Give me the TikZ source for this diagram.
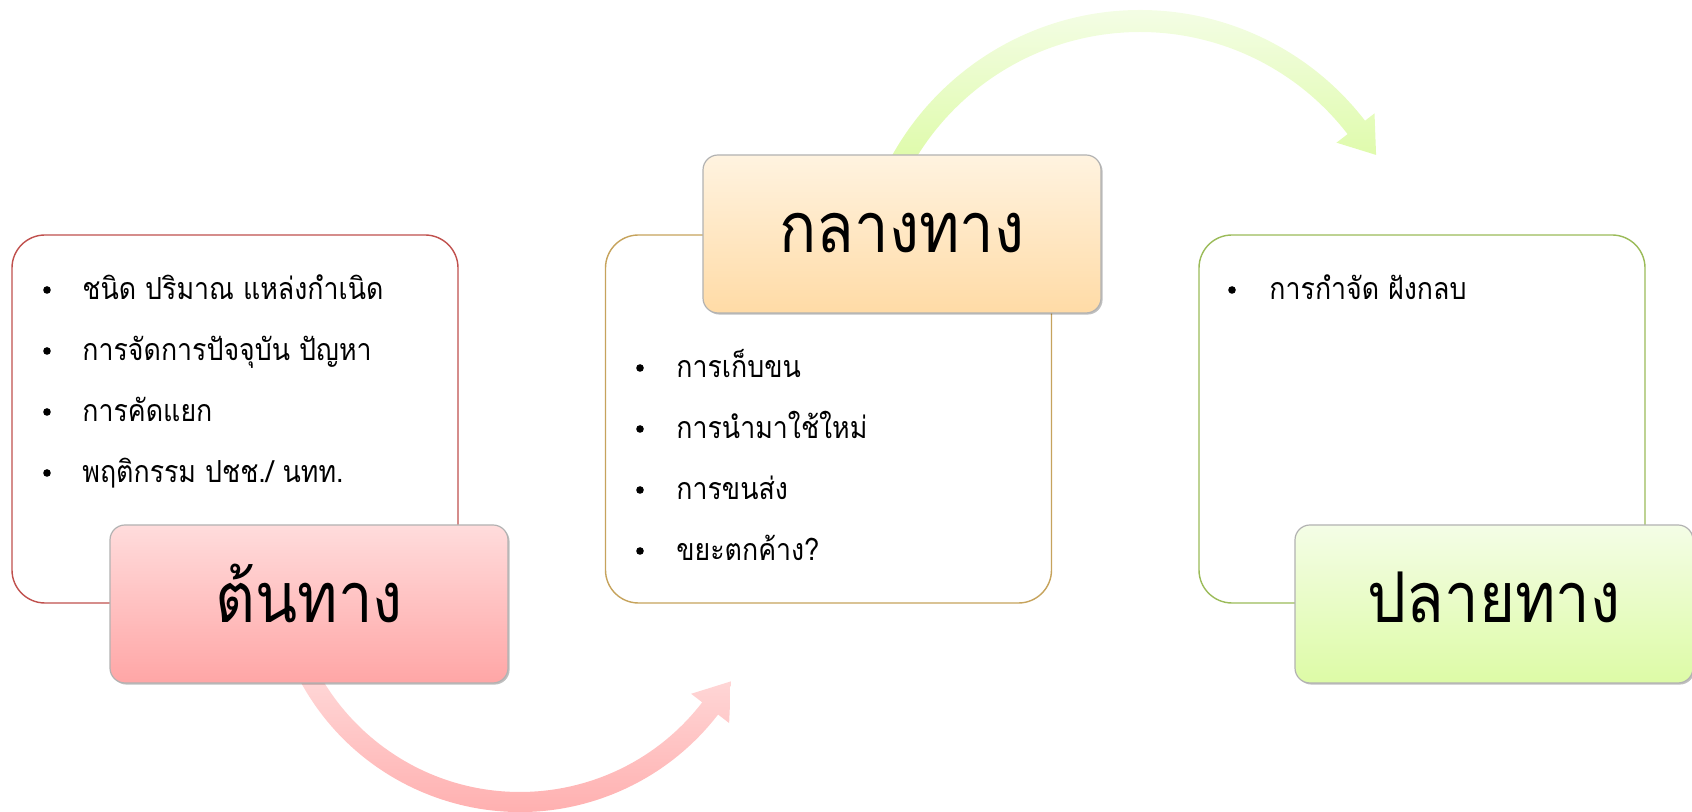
\documentclass[tikz,border=0pt]{standalone}
\usepackage{fontspec}
\usepackage{tikz}
\usetikzlibrary{shadows}
\newfontfamily\thaifont[Script=Thai, FakeStretch=0.88]{Loma}
\definecolor{tonline}{HTML}{C0504D}
\definecolor{klangline}{HTML}{C6A35C}
\definecolor{plailine}{HTML}{9BBB59}
\definecolor{tontop}{HTML}{FFDCDC}
\definecolor{tonbot}{HTML}{FFA6A6}
\definecolor{klangtop}{HTML}{FFF3E0}
\definecolor{klangbot}{HTML}{FFDBA6}
\definecolor{plaitop}{HTML}{F4FDE6}
\definecolor{plaibot}{HTML}{DDFBA6}
\def\boxw{223pt}
\def\boxh{184pt}

\begin{document}
\begin{tikzpicture}[x=0.5pt, y=0.5pt,
    listbox/.style={draw, line width=0.7pt, rounded corners=16.5pt, minimum width=\boxw, minimum height=\boxh, fill=white},
    stagebox/.style={draw=black!30, line width=0.6pt, rounded corners=7.5pt, minimum width=199pt, minimum height=79pt,
      text height=20pt, text depth=1.5pt, inner sep=0pt, font=\thaifont\fontsize{35}{40}\selectfont,
      drop shadow={shadow xshift=0.8pt, shadow yshift=-0.8pt, opacity=0.25, fill=black}},
    item/.style={anchor=base west, inner sep=0pt, font=\thaifont\fontsize{15.2}{20}\selectfont},
    dot/.style={circle, fill=black, inner sep=0pt, minimum size=3.8pt}]
    \useasboundingbox (0,0) rectangle (1692,812);
    % Arrows.
    \coordinate (lowarc) at (520,250);
    \coordinate (higharc) at (1140,518);
    \begin{scope}[shift={(lowarc)}]
      \path[top color=tontop, bottom color=tonbot] (205:250) arc[start angle=205, end angle=322.4, radius=250]
        -- (322.4:264) -- (330.5:242.4) -- (322.4:216) -- (322.4:230)
        arc[start angle=322.4, end angle=205, radius=230] -- cycle;
    \end{scope}
    \begin{scope}[shift={(higharc)}]
      \path[top color=plaitop, bottom color=plaibot] (152:284) arc[start angle=152, end angle=37.6, radius=284]
        -- (37.6:296) -- (30.5:274) -- (37.6:248) -- (37.6:262)
        arc[start angle=37.6, end angle=152, radius=262] -- cycle;
    \end{scope}
    % Boxes.
    \node[listbox, draw=tonline] (tonbox) at (235,393) {};
    \node[listbox, draw=klangline] (klangbox) at (828.5,393) {};
    \node[listbox, draw=plailine] (plaibox) at (1422,393) {};
    % Items, left.
    \node[dot] (tondot1) at (47,522) {};
    \node[item] (tonitem1) at (82,512) {ชนิด ปริมาณ แหล่งกำเนิด};
    \node[dot] (tondot2) at (47,461) {};
    \node[item] (tonitem2) at (82,451) {การจัดการปัจจุบัน ปัญหา};
    \node[dot] (tondot3) at (47,400) {};
    \node[item] (tonitem3) at (82,390) {การคัดแยก};
    \node[dot] (tondot4) at (47,339) {};
    \node[item] (tonitem4) at (82,329) {พฤติกรรม ปชช./ นทท.};
    % Items, middle.
    \node[dot] (klangdot1) at (640,444) {};
    \node[item] (klangitem1) at (676,434) {การเก็บขน};
    \node[dot] (klangdot2) at (640,383) {};
    \node[item] (klangitem2) at (676,373) {การนำมาใช้ใหม่};
    \node[dot] (klangdot3) at (640,322) {};
    \node[item] (klangitem3) at (676,312) {การขนส่ง};
    \node[dot] (klangdot4) at (640,261) {};
    \node[item] (klangitem4) at (676,251) {ขยะตกค้าง?};
    % Items, right.
    \node[dot] (plaidot1) at (1232,522) {};
    \node[item] (plaiitem1) at (1269,512) {การกำจัด ฝังกลบ};
    % Stages.
    \node[stagebox, top color=tontop, bottom color=tonbot] (ton) at (309,208) {ต้นทาง};
    \node[stagebox, top color=klangtop, bottom color=klangbot] (klang) at (902,578) {กลางทาง};
    \node[stagebox, top color=plaitop, bottom color=plaibot] (plai) at (1494,208) {ปลายทาง};
\end{tikzpicture}
\end{document}
